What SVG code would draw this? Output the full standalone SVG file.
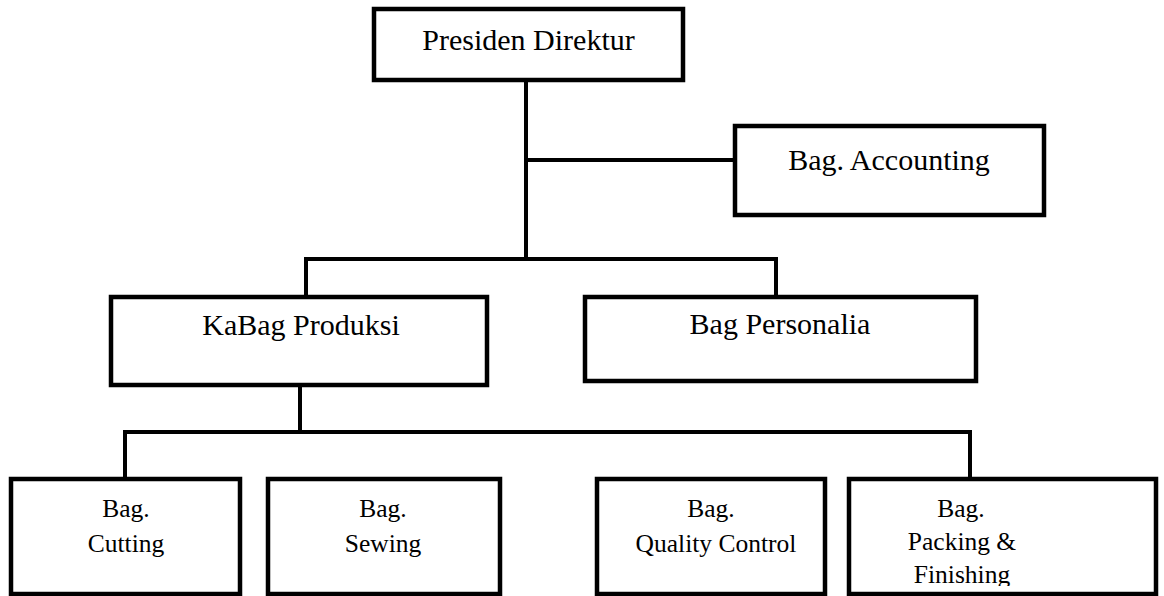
<svg xmlns="http://www.w3.org/2000/svg" width="1164" height="596" viewBox="0 0 1164 596">
<style>
.box{fill:#fff;stroke:#000;stroke-width:4.5}
.ln{fill:none;stroke:#000;stroke-width:4;stroke-linecap:square}
.t{font-family:"Liberation Serif","Times New Roman",serif;fill:#000;text-anchor:middle}
.big{font-size:30px}
.sm{font-size:25.5px}
</style>
<defs>
<clipPath id="clipFin"><rect x="849" y="479" width="307" height="107"/></clipPath>
</defs>
<rect width="1164" height="596" fill="#fff"/>
<g id="connectors">
<path class="ln" d="M526 80 V259"/>
<path class="ln" d="M526 160 H735"/>
<path class="ln" d="M306 297 V259 H776 V297"/>
<path class="ln" d="M300 385 V432"/>
<path class="ln" d="M125 479 V432 H970 V479"/>
</g>
<g id="presiden">
<rect class="box" x="374" y="9" width="309" height="71"/>
<text class="t big" x="528.5" y="50">Presiden Direktur</text>
</g>
<g id="accounting">
<rect class="box" x="735" y="126" width="309" height="89"/>
<text class="t big" x="889" y="170">Bag. Accounting</text>
</g>
<g id="produksi">
<rect class="box" x="111" y="297" width="376" height="88"/>
<text class="t big" x="301" y="335">KaBag Produksi</text>
</g>
<g id="personalia">
<rect class="box" x="585" y="297" width="391" height="84"/>
<text class="t big" x="780" y="334">Bag Personalia</text>
</g>
<g id="cutting">
<rect class="box" x="11" y="479" width="229" height="115"/>
<text class="t sm" x="126" y="517">Bag.</text>
<text class="t sm" x="126" y="552">Cutting</text>
</g>
<g id="sewing">
<rect class="box" x="268" y="479" width="232" height="115"/>
<text class="t sm" x="383" y="517">Bag.</text>
<text class="t sm" x="383" y="552">Sewing</text>
</g>
<g id="qc">
<rect class="box" x="597" y="479" width="228" height="115"/>
<text class="t sm" x="711" y="517">Bag.</text>
<text class="t sm" x="716" y="552">Quality Control</text>
</g>
<g id="packing">
<rect class="box" x="849" y="479" width="307" height="115"/>
<text class="t sm" x="961" y="517">Bag.</text>
<text class="t sm" x="962" y="550">Packing &amp;</text>
<text class="t sm" x="962" y="583" clip-path="url(#clipFin)">Finishing</text>
</g>
</svg>
